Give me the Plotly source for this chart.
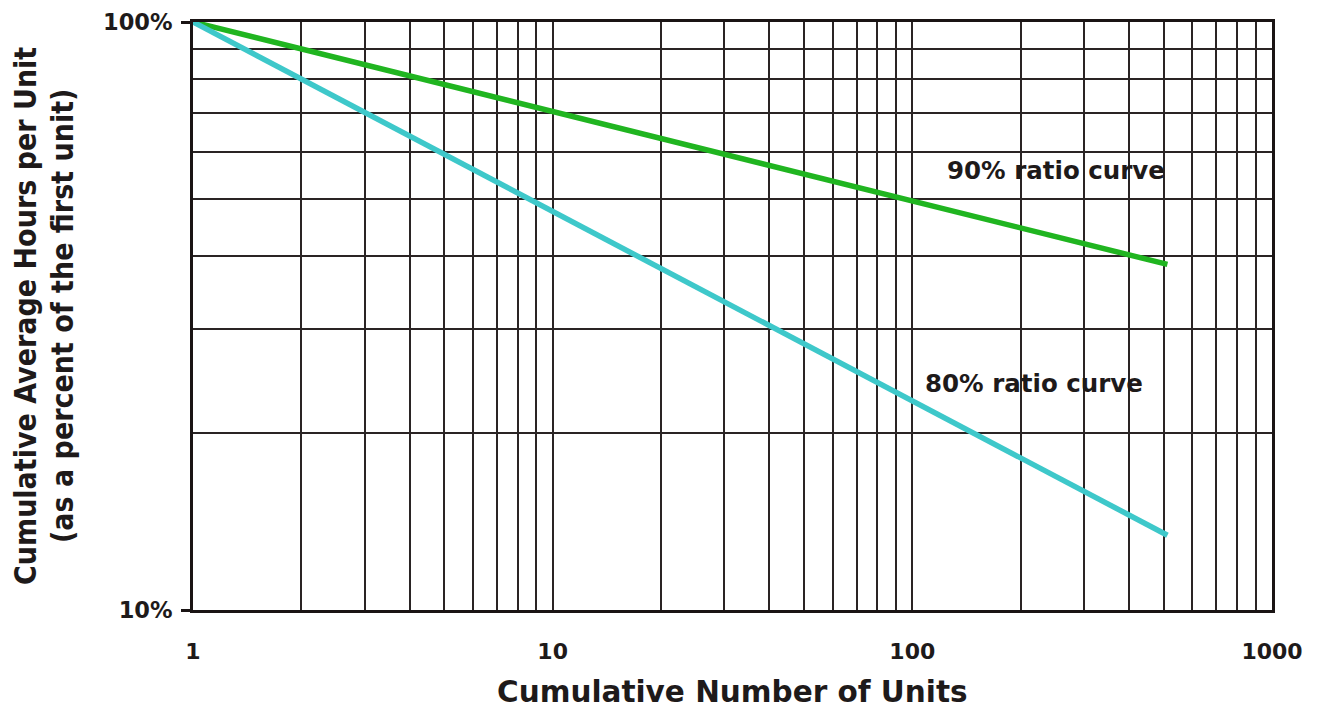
import plotly.graph_objects as go

# Cumulative number of units (doublings)
units = [1, 2, 4, 8, 16, 32, 64, 128, 256, 512]
# Cumulative average hours per unit, % of first unit
ratio90 = [100, 90, 81, 72.9, 65.6, 59.0, 53.1, 47.8, 43.0, 38.7]
ratio80 = [100, 80, 64, 51.2, 41.0, 32.8, 26.2, 21.0, 16.8, 13.4]

x_major = [1, 10, 100, 1000]
x_major_text = ["<b>1</b>", "<b>10</b>", "<b>100</b>", "<b>1000</b>"]
x_minor = [2, 3, 4, 5, 6, 7, 8, 9, 20, 30, 40, 50, 60, 70, 80, 90,
           200, 300, 400, 500, 600, 700, 800, 900]
y_major = [10, 100]
y_major_text = ["<b>10%</b>", "<b>100%</b>"]
y_minor = [20, 30, 40, 50, 60, 70, 80, 90]

# curve labels (text, x in log10 units, y in log10 units)
labels = [("<b>90% ratio curve</b>", 2.4, 1.748),
          ("<b>80% ratio curve</b>", 2.339, 1.386)]

grid_color = "#2a2424"
text_color = "#1e1a1a"
font_wide = "DejaVu Sans, Verdana, sans-serif"
font_cond = "DejaVu Sans Condensed, Liberation Sans Narrow, sans-serif"

fig = go.Figure()
fig.add_trace(go.Scatter(x=units, y=ratio90, mode="lines",
                         line=dict(color="#20b520", width=5.5), name="90%"))
fig.add_trace(go.Scatter(x=units, y=ratio80, mode="lines",
                         line=dict(color="#3ec8ca", width=5.5), name="80%"))

fig.update_layout(
    width=1311, height=702,
    margin=dict(l=185, r=47, t=14, b=100),
    paper_bgcolor="white", plot_bgcolor="white",
    showlegend=False,
    font=dict(family=font_wide, color=text_color),
)

fig.update_xaxes(
    type="log", range=[0, 3], automargin=False,
    tickvals=x_major, ticktext=x_major_text,
    ticks="", ticklabelstandoff=20,
    tickfont=dict(size=22, family=font_wide, color=text_color),
    showgrid=True, gridcolor=grid_color, gridwidth=2,
    minor=dict(tickvals=x_minor, showgrid=True, gridcolor=grid_color, gridwidth=2, ticks=""),
    showline=True, linecolor="#1a1414", linewidth=3, mirror=True,
    zeroline=False,
)
fig.update_yaxes(
    type="log", range=[1, 2], automargin=False,
    tickvals=y_major, ticktext=y_major_text,
    ticks="outside", ticklen=9, tickwidth=2.5, tickcolor="#1a1414",
    ticklabelstandoff=4,
    tickfont=dict(size=22.5, family=font_wide, color=text_color),
    showgrid=True, gridcolor=grid_color, gridwidth=2,
    minor=dict(tickvals=y_minor, showgrid=True, gridcolor=grid_color, gridwidth=2, ticks=""),
    showline=True, linecolor="#1a1414", linewidth=3, mirror=True,
    zeroline=False,
)

# X axis title
fig.add_annotation(text="<b>Cumulative Number of Units</b>",
                   xref="paper", yref="paper", x=0.5, y=-0.1395,
                   xanchor="center", yanchor="middle", showarrow=False,
                   borderpad=0,
                   font=dict(size=29.5, family=font_wide, color=text_color))

# Y axis title as two rotated lines
fig.add_annotation(text="<b>Cumulative Average Hours per Unit</b>",
                   xref="paper", yref="paper", x=-0.1557, y=0.5,
                   xanchor="center", yanchor="middle", textangle=-90,
                   showarrow=False, font=dict(size=30, family=font_cond, color=text_color))
fig.add_annotation(text="<b>(as a percent of the first unit)</b>",
                   xref="paper", yref="paper", x=-0.1214, y=0.5,
                   xanchor="center", yanchor="middle", textangle=-90,
                   showarrow=False, font=dict(size=30, family=font_cond, color=text_color))

# curve labels: white backing drawn between grid and traces
for txt, lx, ly in labels:
    fig.add_shape(type="rect", xref="x", yref="y", layer="between",
                  xsizemode="pixel", ysizemode="pixel",
                  xanchor=lx, yanchor=ly, x0=-119, x1=119, y0=-24, y1=24,
                  fillcolor="white", line=dict(width=0))
    fig.add_annotation(text=txt, x=lx, y=ly, xref="x", yref="y",
                       showarrow=False,
                       font=dict(size=24.5, family=font_wide, color=text_color))

fig.write_html("out.html")
